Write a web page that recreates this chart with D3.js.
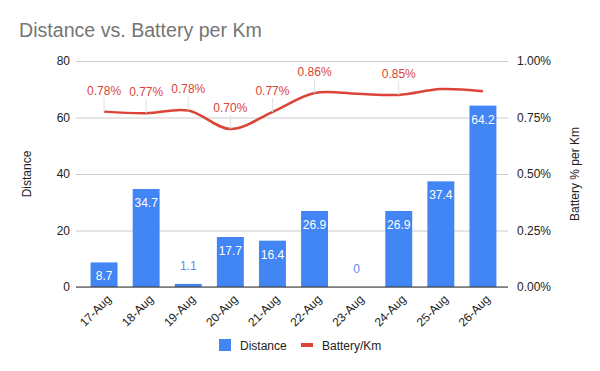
<!DOCTYPE html>
<html><head><meta charset="utf-8">
<script src="https://cdn.jsdelivr.net/npm/d3@7"></script>
<style>body{margin:0;background:#fff}svg{display:block;font-family:"Liberation Sans",Arial,sans-serif}</style>
</head><body><svg id="c" width="600" height="371"></svg>
<script>
const categories = ["17-Aug","18-Aug","19-Aug","20-Aug","21-Aug","22-Aug","23-Aug","24-Aug","25-Aug","26-Aug"];
const distance = [8.7, 34.7, 1.1, 17.7, 16.4, 26.9, 0, 26.9, 37.4, 64.2];
const batteryPerKm = [0.776, 0.769, 0.781, 0.699, 0.774, 0.858, 0.855, 0.850, 0.876, 0.866]; // percent
const batteryLabelShown = [true, true, true, true, true, true, false, true, false, false];
const leftTicks = [0, 20, 40, 60, 80];
const rightTicks = [0, 0.25, 0.5, 0.75, 1.0];

const svg = d3.select("#c");
const W = 600, H = 371;
const L = 76, R = 508, T = 61, B = 287;
const blue = "#4285F4", red = "#DB4437";

svg.append("rect").attr("width", W).attr("height", H).attr("fill", "#fff");

const x = d3.scaleBand().domain(categories).range([83, 504]).paddingInner(0.36).paddingOuter(0.18);
const yL = d3.scaleLinear().domain([0, 80]).range([B, T]);
const yR = d3.scaleLinear().domain([0, 1]).range([B, T]);

// title
svg.append("text").attr("x", 19).attr("y", 37).attr("font-size", 19.6).attr("fill", "#757575").text("Distance vs. Battery per Km");

// gridlines
const gl = d3.axisLeft(yL).tickValues(leftTicks).tickSize(-(R - L)).tickFormat("");
const gG = svg.append("g").attr("transform", `translate(${L},0)`).call(gl);
gG.select(".domain").remove();
gG.selectAll("line").attr("stroke", "#cccccc").attr("stroke-width", 1);

// left axis labels
const la = svg.append("g").attr("transform", `translate(${L},0)`).call(d3.axisLeft(yL).tickValues(leftTicks).tickSize(0).tickPadding(6));
la.select(".domain").remove();
la.selectAll("text").attr("font-size", 12).attr("fill", "#222").attr("font-family", "Liberation Sans, Arial, sans-serif");

// right axis labels
const ra = svg.append("g").attr("transform", `translate(${R},0)`).call(d3.axisRight(yR).tickValues(rightTicks).tickSize(0).tickPadding(9).tickFormat(d => d.toFixed(2) + "%"));
ra.select(".domain").remove();
ra.selectAll("text").attr("font-size", 12).attr("fill", "#222").attr("font-family", "Liberation Sans, Arial, sans-serif");

// axis titles
svg.append("text").attr("transform", `translate(31,${(T + B) / 2}) rotate(-90)`).attr("text-anchor", "middle").attr("font-size", 12).attr("fill", "#222").text("Distance");
svg.append("text").attr("transform", `translate(579,${(T + B) / 2}) rotate(-90)`).attr("text-anchor", "middle").attr("font-size", 12).attr("fill", "#222").text("Battery % per Km");

// bars
svg.append("g").selectAll("rect").data(distance).join("rect")
  .attr("x", (d, i) => x(categories[i]))
  .attr("width", x.bandwidth())
  .attr("y", d => yL(d))
  .attr("height", d => B - yL(d))
  .attr("fill", blue);

// zero line
svg.append("line").attr("x1", L).attr("x2", R).attr("y1", B).attr("y2", B).attr("stroke", "#333").attr("stroke-width", 1);

// bar labels
svg.append("g").selectAll("text").data(distance).join("text")
  .attr("x", (d, i) => x(categories[i]) + x.bandwidth() / 2)
  .attr("y", d => (B - yL(d) > 20) ? yL(d) + 18 : yL(d) - 14)
  .attr("text-anchor", "middle")
  .attr("font-size", 12)
  .attr("fill", d => (B - yL(d) > 20) ? "#fff" : "#5a8ff0")
  .text(d => d);

// line
const cx = i => x(categories[i]) + x.bandwidth() / 2;
const line = d3.line().x((d, i) => cx(i)).y(d => yR(d)).curve(d3.curveCatmullRom.alpha(0.5));
svg.append("path").datum(batteryPerKm).attr("d", line).attr("fill", "none").attr("stroke", red).attr("stroke-width", 2.5);

// line labels with leader lines
const lbl = svg.append("g");
batteryPerKm.forEach((d, i) => {
  if (!batteryLabelShown[i]) return;
  const py = yR(d);
  lbl.append("line").attr("x1", cx(i)).attr("x2", cx(i)).attr("y1", py - 14).attr("y2", py).attr("stroke", "#e0e0e0").attr("stroke-width", 1);
  lbl.append("text").attr("x", cx(i)).attr("y", py - 17).attr("text-anchor", "middle").attr("font-size", 12).attr("fill", red).text(d.toFixed(2) + "%");
});

// x labels
const xa = svg.append("g").attr("transform", `translate(0,${B})`).call(d3.axisBottom(x).tickSize(0).tickPadding(0));
xa.select(".domain").remove();
xa.selectAll("text")
  .attr("font-size", 12).attr("fill", "#222").attr("font-family", "Liberation Sans, Arial, sans-serif")
  .attr("text-anchor", "end").attr("dy", 0)
  .attr("transform", "translate(8,13) rotate(-45)");

// legend
const lg = svg.append("g");
lg.append("rect").attr("x", 219).attr("y", 339).attr("width", 12).attr("height", 12).attr("fill", blue);
lg.append("text").attr("x", 240).attr("y", 349.5).attr("font-size", 12).attr("fill", "#222").text("Distance");
lg.append("line").attr("x1", 301).attr("x2", 313).attr("y1", 345).attr("y2", 345).attr("stroke", red).attr("stroke-width", 4);
lg.append("text").attr("x", 322).attr("y", 349.5).attr("font-size", 12).attr("fill", "#222").text("Battery/Km");
</script></body></html>
